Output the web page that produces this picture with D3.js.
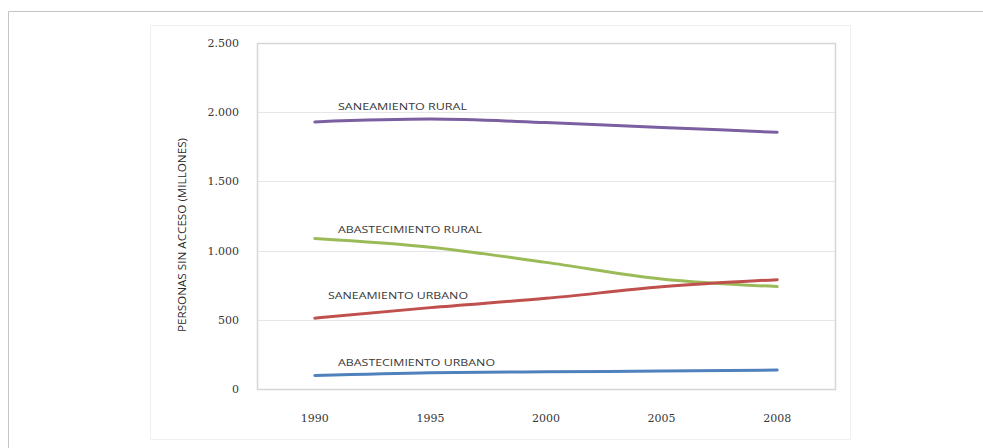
<!DOCTYPE html>
<html>
<head>
<meta charset="utf-8">
<script src="https://cdn.jsdelivr.net/npm/d3@7"></script>
<style>
  html, body { margin: 0; padding: 0; background: #fff; }
  svg { display: block; font-family: "Open Sans", "Liberation Sans", sans-serif; }
</style>
</head>
<body>
<svg id="chart" width="983" height="448"></svg>
<script>
// Años (categorías del eje X)
const years = ["1990", "1995", "2000", "2005", "2008"];

// Personas sin acceso, en millones
const saneamientoRural     = [1930, 1950, 1925, 1890, 1855];
const abastecimientoRural  = [1088, 1025, 915, 795, 740];
const saneamientoUrbano    = [512, 588, 655, 738, 790];
const abastecimientoUrbano = [97, 118, 124, 130, 137];

const seriesNames  = ["SANEAMIENTO RURAL", "ABASTECIMIENTO RURAL", "SANEAMIENTO URBANO", "ABASTECIMIENTO URBANO"];
const seriesColors = ["#7B5FA0", "#9BBB59", "#C0504D", "#4F81BD"];
const yTicks = [0, 500, 1000, 1500, 2000, 2500];
const yTitle = "PERSONAS SIN ACCESO (MILLONES)";

const series = [saneamientoRural, abastecimientoRural, saneamientoUrbano, abastecimientoUrbano];

const svg = d3.select("#chart");
const tickFont = "'DejaVu Serif', serif";
const labelFont = "'Open Sans', 'Liberation Sans', sans-serif";

// Marco exterior (solo borde superior e izquierdo visibles)
svg.append("path")
  .attr("d", "M8.5,448 L8.5,11.5 L983,11.5")
  .attr("fill", "none").attr("stroke", "#c4c4c4").attr("stroke-width", 1);

// Área del gráfico
svg.append("rect")
  .attr("x", 150.5).attr("y", 25.5).attr("width", 700).attr("height", 414)
  .attr("fill", "#fff").attr("stroke", "#f0f0f0");

const plot = { left: 257, right: 835, top: 43, bottom: 389 };

const x = d3.scaleBand().domain(years).range([plot.left, plot.right]);
const y = d3.scaleLinear().domain([0, 2500]).range([plot.bottom, plot.top]);

// Líneas de cuadrícula
svg.append("g").selectAll("line").data(yTicks.slice(1, -1)).join("line")
  .attr("x1", plot.left).attr("x2", plot.right)
  .attr("y1", d => Math.round(y(d)) + 0.5).attr("y2", d => Math.round(y(d)) + 0.5)
  .attr("stroke", "#e6e6e6").attr("stroke-width", 1.2);

// Borde del área de trazado
svg.append("rect")
  .attr("x", plot.left + 0.5).attr("y", plot.top + 0.5)
  .attr("width", plot.right - plot.left).attr("height", plot.bottom - plot.top)
  .attr("fill", "none").attr("stroke", "#d6d6d6").attr("stroke-width", 1.5);

// Eje Y
const yAxis = svg.append("g")
  .attr("transform", `translate(${plot.left - 15},0)`)
  .call(d3.axisLeft(y).tickValues(yTicks).tickSize(0)
    .tickFormat(d => d3.format(",")(d).replace(/,/g, ".")));
yAxis.select(".domain").remove();
yAxis.attr("font-family", tickFont).attr("font-size", 11);
yAxis.selectAll("text").attr("fill", "#383838").attr("dx", 0);

// Eje X
const xAxis = svg.append("g")
  .attr("transform", `translate(0,${plot.bottom + 22})`)
  .call(d3.axisBottom(x).tickSize(0));
xAxis.select(".domain").remove();
xAxis.attr("font-family", tickFont).attr("font-size", 11);
xAxis.selectAll("text").attr("fill", "#383838");

// Título del eje Y
svg.append("text")
  .attr("transform", `translate(186,235) rotate(-90)`)
  .attr("text-anchor", "middle")
  .attr("font-family", labelFont)
  .attr("font-size", 11).attr("fill", "#2a2a2a")
  .attr("textLength", 194).attr("lengthAdjust", "spacingAndGlyphs")
  .text(yTitle);

// Series
const line = d3.line()
  .x((d, i) => x(years[i]) + x.bandwidth() / 2)
  .y(d => y(d))
  .curve(d3.curveMonotoneX);

svg.append("g").selectAll("path").data(series).join("path")
  .attr("d", line)
  .attr("fill", "none")
  .attr("stroke", (d, i) => seriesColors[i])
  .attr("stroke-width", 3)
  .attr("stroke-linecap", "round");

// Etiquetas de series
const labelPos = [
  { x: 338, y: 110, w: 129 },
  { x: 338, y: 233, w: 144 },
  { x: 328, y: 299, w: 140 },
  { x: 338, y: 366, w: 157 }
];
svg.append("g").selectAll("text").data(seriesNames).join("text")
  .attr("x", (d, i) => labelPos[i].x)
  .attr("y", (d, i) => labelPos[i].y)
  .attr("font-family", labelFont)
  .attr("font-size", 9)
  .attr("fill", "#3a3a3a")
  .attr("textLength", (d, i) => labelPos[i].w)
  .attr("lengthAdjust", "spacingAndGlyphs")
  .text(d => d);
</script>
</body>
</html>
